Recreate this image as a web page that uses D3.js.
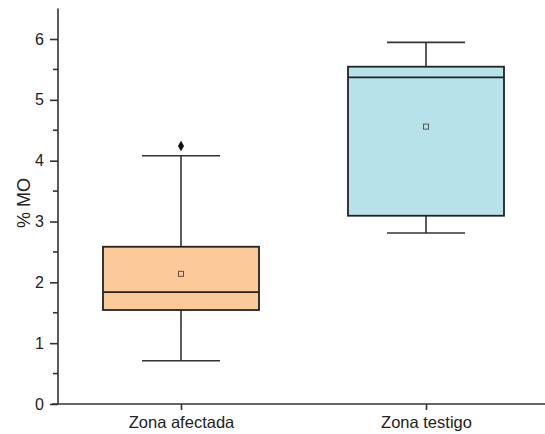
<!DOCTYPE html>
<html><head><meta charset="utf-8">
<script src="https://cdn.jsdelivr.net/npm/d3@7"></script>
<style>body{margin:0;background:#fff}svg{display:block}text{font-family:"Liberation Sans",Arial,sans-serif}</style>
</head><body>
<svg id="c" width="545" height="434"></svg>
<script>
const categories = ["Zona afectada", "Zona testigo"];
const whiskerLow = [0.71, 2.81];
const q1 = [1.545, 3.095];
const median = [1.84, 5.37];
const q3 = [2.585, 5.545];
const whiskerHigh = [4.08, 5.945];
const means = [2.14, 4.56];
const outliers = [[4.24], []];
const fills = ["#FBC898", "#B8E2E9"];
const yTicks = [0, 1, 2, 3, 4, 5, 6];

const svg = d3.select("#c");
const stroke = "#333";
const x = d3.scalePoint().domain(categories).range([58.5, 548.5]).padding(0.5);
const y = d3.scaleLinear().domain([0, 6.5]).range([404, 8.6]);
const boxW = 156, capW = 78;

categories.forEach((c, i) => {
  const cx = x(c);
  const g = svg.append("g");
  g.append("line").attr("x1", cx).attr("x2", cx).attr("y1", y(q3[i])).attr("y2", y(whiskerHigh[i])).attr("stroke", stroke).attr("stroke-width", 1.6);
  g.append("line").attr("x1", cx).attr("x2", cx).attr("y1", y(q1[i])).attr("y2", y(whiskerLow[i])).attr("stroke", stroke).attr("stroke-width", 1.6);
  [whiskerHigh[i], whiskerLow[i]].forEach(v => {
    g.append("line").attr("x1", cx - capW/2).attr("x2", cx + capW/2).attr("y1", y(v)).attr("y2", y(v)).attr("stroke", stroke).attr("stroke-width", 1.6);
  });
  g.append("rect").attr("x", cx - boxW/2).attr("width", boxW).attr("y", y(q3[i])).attr("height", y(q1[i]) - y(q3[i]))
    .attr("fill", fills[i]).attr("stroke", "#222").attr("stroke-width", 1.8);
  g.append("line").attr("x1", cx - boxW/2).attr("x2", cx + boxW/2).attr("y1", y(median[i])).attr("y2", y(median[i])).attr("stroke", "#222").attr("stroke-width", 1.8);
  g.append("rect").attr("x", cx - 2.5).attr("y", y(means[i]) - 2.5).attr("width", 5).attr("height", 5).attr("fill", "none").attr("stroke", "#555").attr("stroke-width", 1);
  outliers[i].forEach(v => {
    g.append("path").attr("d", d3.symbol(d3.symbolDiamond, 32)()).attr("transform", `translate(${cx},${y(v)})`).attr("fill", "#111");
  });
});

// y axis
const yAxis = d3.axisLeft(y).tickValues(yTicks).tickSize(8).tickPadding(6).tickFormat(d3.format("d"));
const ya = svg.append("g").attr("transform", "translate(58,0)").call(yAxis);
ya.select(".domain").remove();
ya.append("line").attr("x1", 0).attr("x2", 0).attr("y1", y(6.5)).attr("y2", y(0)).attr("stroke", stroke).attr("stroke-width", 1.6);
ya.selectAll(".tick line").attr("stroke", stroke).attr("stroke-width", 1.6);
ya.selectAll(".tick text").attr("font-size", 16).attr("fill", "#222");
const minor = d3.range(0.5, 6.5, 1);
ya.selectAll(".minor").data(minor).enter().append("line").attr("x1", -5).attr("x2", 0).attr("y1", d => y(d)).attr("y2", d => y(d)).attr("stroke", stroke).attr("stroke-width", 1.6);

// x axis
const xAxis = d3.axisBottom(x).tickSize(6).tickPadding(6);
const xa = svg.append("g").attr("transform", "translate(0,404)").call(xAxis);
xa.select(".domain").remove();
xa.append("line").attr("x1", 52).attr("x2", 545).attr("y1", 0).attr("y2", 0).attr("stroke", stroke).attr("stroke-width", 1.6);
xa.selectAll(".tick line").attr("stroke", stroke).attr("stroke-width", 1.6);
xa.selectAll(".tick text").attr("font-size", 16.5).attr("fill", "#222");

svg.append("text").attr("transform", "translate(30,203) rotate(-90)").attr("text-anchor", "middle").attr("font-size", 18).attr("fill", "#222").text("% MO");
</script>
</body></html>
